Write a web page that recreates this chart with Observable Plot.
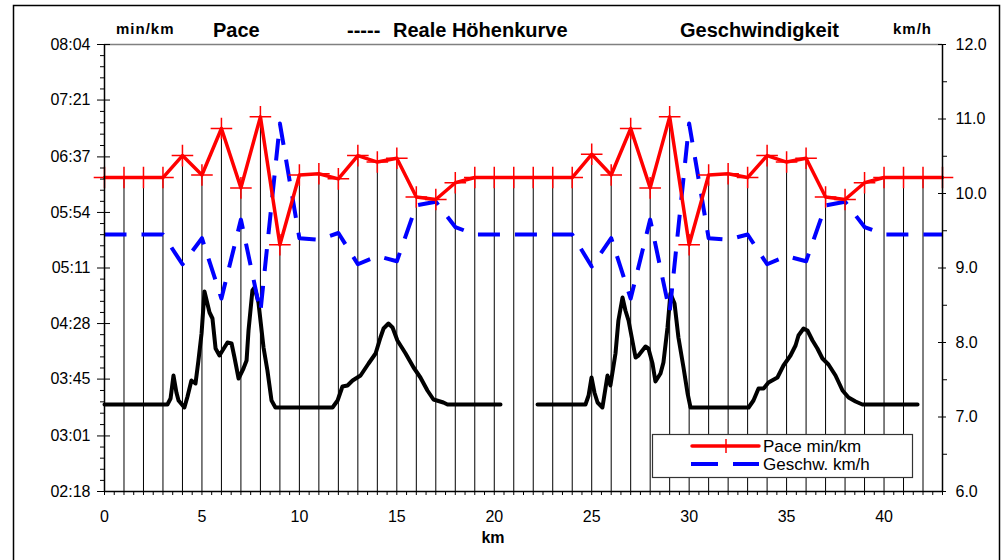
<!DOCTYPE html>
<html><head><meta charset="utf-8">
<script src="https://cdn.jsdelivr.net/npm/d3@7"></script>
<script src="https://cdn.jsdelivr.net/npm/@observablehq/plot@0.6"></script>
<style>
body{margin:0;background:#fff;}
svg{font-family:"Liberation Sans",Arial,sans-serif;}
</style>
</head><body><div id="chart"></div>
<script>
// ---- data ----
const km = [0,1,2,3,4,5,6,7,8,9,10,11,12,13,14,15,16,17,18,19,20,21,22,23,24,25,26,27,28,29,30,31,32,33,34,35,36,37,38,39,40,41,42,43];
const pace = ["6:21","6:21","6:21","6:21","6:38","6:23","6:59","6:13","7:08","5:29","6:23","6:24","6:20","6:38","6:33","6:36","6:06","6:04","6:17","6:21","6:21","6:21","6:21","6:21","6:21","6:39","6:23","6:59","6:13","7:08","5:29","6:23","6:24","6:21","6:38","6:33","6:36","6:06","6:04","6:17","6:21","6:21","6:21","6:21"];
const speed = [9.45,9.45,9.45,9.45,9.05,9.40,8.59,9.65,8.41,10.94,9.40,9.38,9.47,9.05,9.16,9.09,9.84,9.89,9.55,9.45,9.45,9.45,9.45,9.45,9.45,9.02,9.40,8.59,9.65,8.41,10.94,9.40,9.38,9.45,9.05,9.16,9.09,9.84,9.89,9.55,9.45,9.45,9.45,9.45];
const elevKmA = [0,3.23,3.39,3.54,3.69,3.80,4.10,4.26,4.46,4.67,4.82,4.98,5.13,5.39,5.54,5.70,5.90,6.31,6.52,6.67,6.88,7.13,7.29,7.39,7.59,7.70,7.90,8.16,8.36,8.57,8.77,11.70,11.96,12.21,12.47,12.73,13.14,13.55,13.91,14.16,14.32,14.57,14.78,15.03,15.45,15.86,16.21,16.57,16.88,17.39,17.60,20.32];
const elevA   = [487,487,493,516,499,491,484,495,511,508,531,558,600,579,573,543,536,549,548,534,513,523,531,561,601,604,589,544,521,491,484,484,491,505,506,511,516,528,538,554,563,568,564,551,538,524,514,501,492,489,487,487];
const elevKmB = [22.22,24.68,24.84,24.99,25.14,25.30,25.55,25.81,25.96,26.22,26.37,26.58,26.73,26.89,27.25,27.40,27.76,27.91,28.12,28.27,28.53,28.68,28.89,29.04,29.25,29.45,29.71,29.92,30.07,33.05,33.30,33.56,33.82,34.07,34.53,34.84,35.20,35.46,35.61,35.87,36.07,36.33,36.58,36.84,37.15,37.51,37.87,38.18,38.54,38.89,41.72];
const elevB   = [487,487,496,514,499,489,484,516,506,538,571,594,581,571,534,536,545,543,528,510,518,529,564,598,588,554,524,498,484,484,491,503,503,509,514,526,536,546,556,563,561,551,543,533,527,516,501,494,490,487,487];
const paceTickLabels = ["02:18","03:01","03:45","04:28","05:11","05:54","06:37","07:21","08:04"];
const speedTicks = [6,7,8,9,10,11,12];
const kmTicks = [0,5,10,15,20,25,30,35,40];
const elevRange = [400, 847]; // hidden elevation axis (m) spanning the plot height

// ---- helpers ----
const toSec = s => { const [m, ss] = s.split(":"); return (+m) * 60 + (+ss); };
const paceMin = toSec(paceTickLabels[0]), paceMax = toSec(paceTickLabels[paceTickLabels.length - 1]);
const yMin = speedTicks[0], yMax = speedTicks[speedTicks.length - 1];
const paceToY = sec => yMin + (sec - paceMin) / (paceMax - paceMin) * (yMax - yMin);
const elevToY = e => yMin + (e - elevRange[0]) / (elevRange[1] - elevRange[0]) * (yMax - yMin);

const rows = km.map((k, i) => ({km: k, py: paceToY(toSec(pace[i])), sy: speed[i]}));
const elevRowsA = elevKmA.map((k, i) => ({km: k, ey: elevToY(elevA[i])}));
const elevRowsB = elevKmB.map((k, i) => ({km: k, ey: elevToY(elevB[i])}));

const leftTickY = paceTickLabels.map(l => paceToY(toSec(l)));
const leftMinor = [];
for (let i = 0; i < leftTickY.length - 1; i++) for (let j = 1; j < 5; j++) leftMinor.push(leftTickY[i] + (leftTickY[i + 1] - leftTickY[i]) * j / 5);
const rightMinor = speedTicks.slice(0, -1).map(v => v + 0.5);
const xMinor = d3.range(0, 43.001, 0.5);
const xMax = km[km.length - 1];

const chart = Plot.plot({
  width: 1001, height: 560,
  marginLeft: 104, marginRight: 59, marginTop: 44, marginBottom: 69,
  style: {fontFamily: "Liberation Sans, Arial, sans-serif", fontSize: "16px", color: "#000", background: "#fff", overflow: "visible"},
  x: {domain: [0, xMax], axis: null, label: null},
  y: {domain: [yMin, yMax], axis: null, label: null},
  marks: [
    Plot.ruleY([yMax], {stroke: "#808080", strokeWidth: 1.5}),
    Plot.ruleX(rows.filter(d => d.km > 0 && d.km < xMax), {x: "km", y1: yMin, y2: "py", stroke: "#000", strokeWidth: 1}),
    Plot.line(elevRowsA, {x: "km", y: "ey", stroke: "#000", strokeWidth: 4}),
    Plot.line(elevRowsB, {x: "km", y: "ey", stroke: "#000", strokeWidth: 4}),
    Plot.line(rows, {x: "km", y: "sy", stroke: "#0000ff", strokeWidth: 4, strokeDasharray: "22,15", strokeLinecap: "butt", curve: "linear"}),
    Plot.line(rows, {x: "km", y: "py", stroke: "#ff0000", strokeWidth: 3.5, curve: "linear"}),
    Plot.dot(rows, {x: "km", y: "py", symbol: "plus", r: 7, stroke: "#ff0000", strokeWidth: 1.5}),
    Plot.ruleX([0, xMax], {stroke: "#000", strokeWidth: 1.5}),
    Plot.ruleY([yMin], {stroke: "#000", strokeWidth: 1.5}),
    // left axis
    Plot.axisY(leftTickY, {anchor: "left", tickSize: 13, dx: 6, fill: "none", label: null}),
    Plot.axisY(leftMinor, {anchor: "left", tickSize: 4, fill: "none", label: null}),
    Plot.axisY(leftTickY, {anchor: "left", tickSize: 0, tickPadding: 14, fontSize: 16, label: null,
      tickFormat: d => paceTickLabels[leftTickY.indexOf(d)]}),
    // right axis
    Plot.axisY(speedTicks, {anchor: "right", tickSize: 8, dx: -5, fill: "none", label: null}),
    Plot.axisY(rightMinor, {anchor: "right", tickSize: 4, fill: "none", label: null}),
    Plot.axisY(speedTicks, {anchor: "right", tickSize: 0, tickPadding: 13, fontSize: 16, label: null, tickFormat: d3.format(".1f")}),
    // bottom axis
    Plot.axisX(xMinor, {anchor: "bottom", tickSize: 4, fill: "none", label: null}),
    Plot.axisX(kmTicks, {anchor: "bottom", tickSize: 0, tickPadding: 19, fontSize: 16, label: null})
  ]
});

const svg = d3.select(chart);
svg.insert("rect", ":first-child").attr("x", 13.5).attr("y", 5.5).attr("width", 986).attr("height", 600)
  .attr("fill", "none").attr("stroke", "#000").attr("stroke-width", 1.5);

const head = [
  {t: "min/km", x: 116, y: 34, s: 15, ls: 1},
  {t: "Pace", x: 213, y: 37, s: 20, ls: 0},
  {t: "-----", x: 347, y: 37, s: 20, ls: 0},
  {t: "Reale Höhenkurve", x: 393, y: 37, s: 20, ls: 0},
  {t: "Geschwindigkeit", x: 680, y: 37, s: 20, ls: 0},
  {t: "km/h", x: 893, y: 34, s: 15, ls: 1}
];
for (const h of head) {
  svg.append("text").attr("x", h.x).attr("y", h.y).attr("font-size", h.s).attr("font-weight", "bold")
    .attr("text-anchor", "start").attr("letter-spacing", h.ls).attr("fill", "#000").text(h.t);
}
svg.append("text").attr("x", 493).attr("y", 543).attr("text-anchor", "middle").attr("font-size", 16)
  .attr("font-weight", "bold").text("km");

// legend
const lg = svg.append("g");
lg.append("rect").attr("x", 652.5).attr("y", 434.5).attr("width", 260).attr("height", 43)
  .attr("fill", "#fff").attr("stroke", "#333").attr("stroke-width", 1.2);
lg.append("line").attr("x1", 692).attr("x2", 759).attr("y1", 446).attr("y2", 446)
  .attr("stroke", "#ff0000").attr("stroke-width", 3.5).attr("stroke-linecap", "round");
lg.append("line").attr("x1", 726).attr("x2", 726).attr("y1", 439).attr("y2", 453)
  .attr("stroke", "#ff0000").attr("stroke-width", 1.5);
lg.append("line").attr("x1", 691).attr("x2", 759).attr("y1", 464).attr("y2", 464)
  .attr("stroke", "#0000ff").attr("stroke-width", 4).attr("stroke-dasharray", "27,15");
lg.append("text").attr("x", 763).attr("y", 452).attr("font-size", 17).attr("text-anchor", "start").text("Pace min/km");
lg.append("text").attr("x", 763).attr("y", 470).attr("font-size", 17).attr("text-anchor", "start").text("Geschw. km/h");

document.getElementById("chart").appendChild(chart);
</script>
</body></html>
